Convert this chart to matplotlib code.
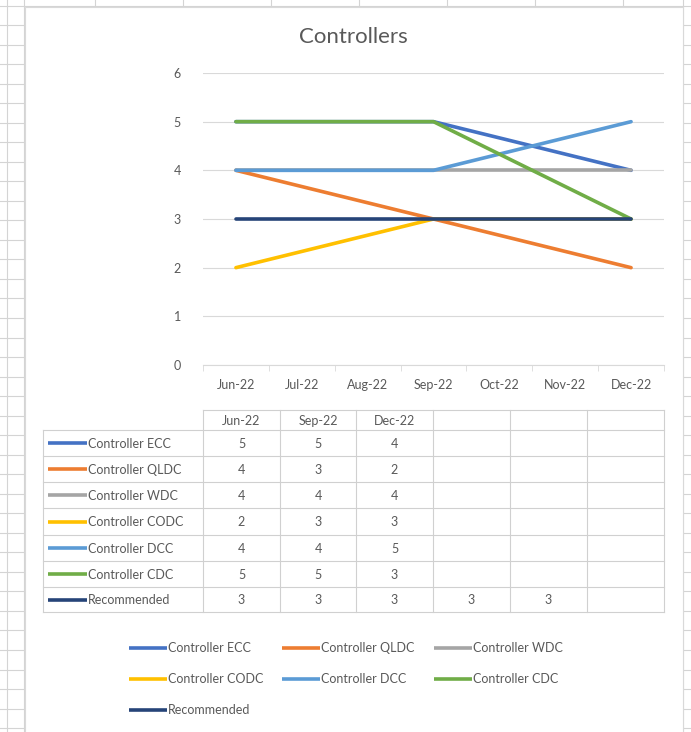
import matplotlib
matplotlib.use("Agg")
import matplotlib.pyplot as plt

plt.rcParams['font.family'] = ['Lato', 'DejaVu Sans']

# data
months = ["Jun-22", "Jul-22", "Aug-22", "Sep-22", "Oct-22", "Nov-22", "Dec-22"]
table_cols = ["Jun-22", "Sep-22", "Dec-22", "", "", ""]
series_names = ["Controller ECC", "Controller QLDC", "Controller WDC",
                "Controller CODC", "Controller DCC", "Controller CDC", "Recommended"]
ecc = [5, 5, 4]
qldc = [4, 3, 2]
wdc = [4, 4, 4]
codc = [2, 3, 3]
dcc = [4, 4, 5]
cdc = [5, 5, 3]
recommended = [3, 3, 3, 3, 3]
colors = ["#4472C4", "#ED7D31", "#A5A5A5", "#FFC000", "#5B9BD5", "#70AD47", "#264478"]

all_values = [ecc, qldc, wdc, codc, dcc, cdc, recommended]

W, H = 691, 732
fig = plt.figure(figsize=(W / 100, H / 100), dpi=100)

# background "sheet" in pixel coordinates
bg = fig.add_axes([0, 0, 1, 1], zorder=0)
bg.set_xlim(0, W)
bg.set_ylim(H, 0)
bg.axis("off")
grid_c = "#D4D4D4"
y = 5.5
while y < H:
    bg.plot([0, W], [y, y], color=grid_c, lw=0.8, zorder=0.2)
    y += 19.53
for x in [7, 24] + [95 + 88 * k for k in range(7)] + [683]:
    bg.plot([x, x], [0, H], color=grid_c, lw=0.8, zorder=0.2)
# chart area
bg.add_patch(plt.Rectangle((25, 7), 658, H, facecolor="white", edgecolor="#D9D9D9",
                           lw=0.8, zorder=1))

txt_c = "#595959"

# title
bg.text(353, 37, "Controllers", ha="center", va="center", fontsize=16, color=txt_c)

# line chart
ax = fig.add_axes([203 / W, 1 - 365 / H, 461 / W, 292 / H], zorder=2)
ax.set_facecolor("none")
xpos = [months.index(c) for c in table_cols if c]
for name, vals, col in zip(series_names, all_values, colors):
    n = min(len(xpos), len(vals))
    ax.plot(xpos[:n], vals[:n], color=col, lw=2.6, solid_capstyle="round", label=name)
ax.set_xlim(-0.5, len(months) - 0.5)
ax.set_ylim(0, 6)
ax.set_yticks(range(7))
ax.yaxis.grid(True, color="#D9D9D9", lw=0.8)
ax.set_axisbelow(True)
for s in ["top", "left", "right"]:
    ax.spines[s].set_visible(False)
ax.spines["bottom"].set_color("#D9D9D9")
ax.set_xticks(range(len(months)))
ax.set_xticklabels(months)
ax.set_xticks([i - 0.5 for i in range(len(months) + 1)], minor=True)
ax.tick_params(axis="x", which="major", length=0, pad=10, labelsize=9, labelcolor=txt_c)
ax.tick_params(axis="x", which="minor", length=4, color="#D9D9D9")
ax.tick_params(axis="y", length=0, pad=16, labelsize=9, labelcolor=txt_c)

# data table under the chart
line_c = "#D0D0D0"
col_x = [203, 280, 356, 433, 510, 587, 664]
row_y = [410, 430, 456, 482, 508, 535, 561, 587, 612]
lbl_x0 = 43
# horizontal lines
bg.plot([col_x[0], col_x[-1]], [row_y[0], row_y[0]], color=line_c, lw=0.8, zorder=2)
for ry in row_y[1:]:
    bg.plot([lbl_x0, col_x[-1]], [ry, ry], color=line_c, lw=0.8, zorder=2)
# vertical lines
bg.plot([lbl_x0, lbl_x0], [row_y[1], row_y[-1]], color=line_c, lw=0.8, zorder=2)
for cx in col_x:
    bg.plot([cx, cx], [row_y[0], row_y[-1]], color=line_c, lw=0.8, zorder=2)
# header
for i, c in enumerate(table_cols):
    bg.text((col_x[i] + col_x[i + 1]) / 2, (row_y[0] + row_y[1]) / 2 + 1, c,
            ha="center", va="center", fontsize=9, color=txt_c)
# rows
for r, (name, vals, col) in enumerate(zip(series_names, all_values, colors)):
    cy = (row_y[r + 1] + row_y[r + 2]) / 2 + 1
    bg.plot([48, 87], [cy - 1, cy - 1], color=col, lw=2.6, solid_capstyle="butt", zorder=3)
    bg.text(88, cy, name, ha="left", va="center", fontsize=9, color=txt_c)
    for i, v in enumerate(vals):
        bg.text((col_x[i] + col_x[i + 1]) / 2, cy, str(v),
                ha="center", va="center", fontsize=9, color=txt_c)

# legend
leg_x = [129, 282, 434]
leg_y = [648, 679, 710]
for k, (name, col) in enumerate(zip(series_names, colors)):
    lx = leg_x[k % 3]
    ly = leg_y[k // 3]
    bg.plot([lx, lx + 38], [ly, ly], color=col, lw=2.6, solid_capstyle="butt", zorder=3)
    bg.text(lx + 39, ly, name, ha="left", va="center", fontsize=9, color=txt_c)

fig.savefig("out.png", dpi=100)
